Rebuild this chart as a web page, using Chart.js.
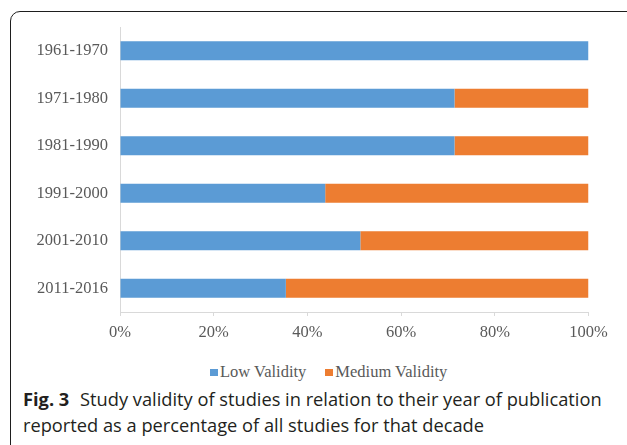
<!DOCTYPE html>
<html>
<head>
<meta charset="utf-8">
<script src="https://cdn.jsdelivr.net/npm/chart.js@4"></script>
<style>
  html, body { margin:0; padding:0; background:#fff; width:627px; height:445px; overflow:hidden; }
  #frame { position:absolute; left:9.5px; top:10.5px; width:700px; height:500px;
           border:1.5px solid #1e1e1e; border-top-left-radius:10px; box-sizing:border-box; }
  #c { position:absolute; left:0; top:0; }
  #legend { position:absolute; left:210px; top:362px; height:20px; display:flex; align-items:center;
            font-family:"Liberation Serif", "Times New Roman", serif; font-size:16.5px; color:#595959; }
  .li { display:flex; align-items:center; margin-right:19px; }
  .sw { width:8px; height:7px; margin-right:2px; }
  #caption { position:absolute; left:23px; top:386px; width:610px; font-family:"Open Sans", sans-serif;
             font-size:18.25px; line-height:25.5px; color:#231f20; white-space:nowrap; }
  #caption b { font-weight:700; margin-right:6px; }
</style>
</head>
<body>
<div id="frame"></div>
<canvas id="c" width="627" height="350"></canvas>
<div id="legend"></div>
<div id="caption"><b>Fig. 3</b> Study validity of studies in relation to their year of publication<br>reported as a percentage of all studies for that decade</div>
<script>
const categories = ['1961-1970','1971-1980','1981-1990','1991-2000','2001-2010','2011-2016'];
const lowValidity = [100, 71.4, 71.4, 43.8, 51.3, 35.4];
const mediumValidity = [0, 28.6, 28.6, 56.2, 48.7, 64.6];
const seriesNames = ['Low Validity', 'Medium Validity'];
const seriesColors = ['#5B9BD5', '#ED7D31'];
const xTickStep = 20;

const serif = '"Liberation Serif", "Times New Roman", serif';
const axisColor = '#d9d9d9';
const textColor = '#595959';

new Chart(document.getElementById('c'), {
  type: 'bar',
  data: {
    labels: categories,
    datasets: [
      { label: seriesNames[0], data: lowValidity, backgroundColor: seriesColors[0], borderWidth: 0 },
      { label: seriesNames[1], data: mediumValidity, backgroundColor: seriesColors[1], borderWidth: 0 }
    ]
  },
  options: {
    indexAxis: 'y',
    responsive: false,
    animation: false,
    devicePixelRatio: 1,
    categoryPercentage: 0.8,
    barPercentage: 0.5,
    layout: { padding: { top: 27, right: 38.5, left: 0, bottom: 0 } },
    plugins: { legend: { display: false }, tooltip: { enabled: false } },
    scales: {
      x: {
        stacked: true, min: 0, max: 100,
        ticks: { stepSize: xTickStep, callback: v => v + '%', color: textColor,
                 font: { family: serif, size: 16.5 }, padding: 7, maxRotation: 0 },
        grid: { display: true, drawOnChartArea: false, drawTicks: true, tickLength: 4, color: axisColor },
        border: { display: true, color: axisColor, width: 1 },
        afterFit: s => { s.height = 38; }
      },
      y: {
        stacked: true,
        ticks: { color: textColor, font: { family: serif, size: 16.5 }, padding: 12 },
        grid: { display: false, drawTicks: false },
        border: { display: true, color: axisColor, width: 1 },
        afterFit: s => { s.width = 120; }
      }
    }
  }
});

const lg = document.getElementById('legend');
seriesNames.forEach((n, i) => {
  const item = document.createElement('div'); item.className = 'li';
  const sw = document.createElement('span'); sw.className = 'sw'; sw.style.background = seriesColors[i];
  const t = document.createElement('span'); t.textContent = n;
  item.appendChild(sw); item.appendChild(t); lg.appendChild(item);
});
</script>
</body>
</html>
